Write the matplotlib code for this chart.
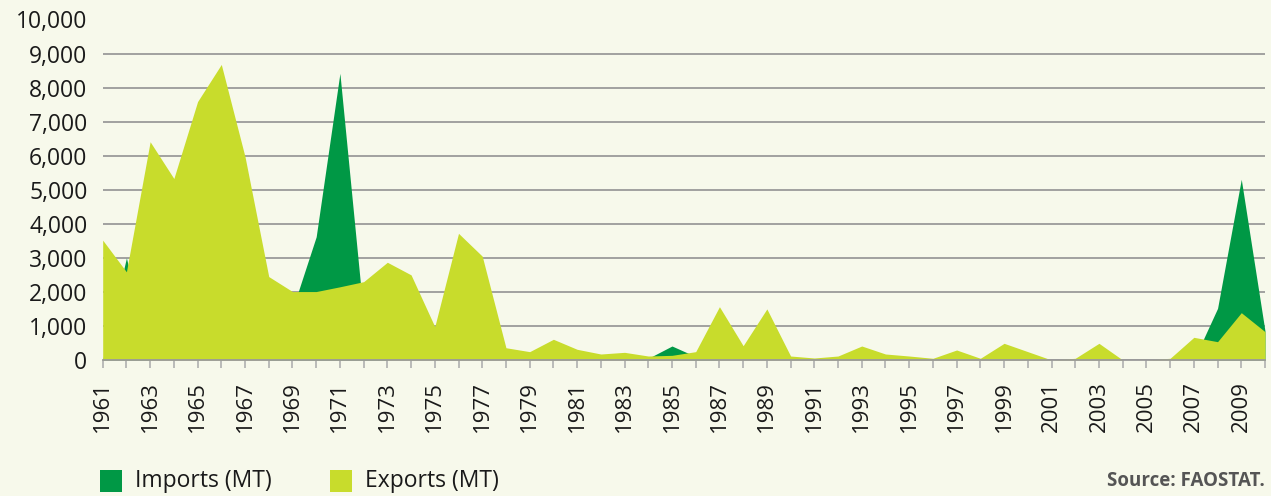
import matplotlib
matplotlib.use('Agg')
import matplotlib.pyplot as plt
from matplotlib.patches import Rectangle
from matplotlib.ticker import FuncFormatter, MultipleLocator

# ---------------------------------------------------------
# data (metric tonnes)
# ---------------------------------------------------------
years = list(range(1961, 2011))

exports = [3520, 2590, 6410, 5330, 7590, 8680, 5970, 2450, 2010, 2010,
           2150, 2300, 2870, 2500, 980, 3720, 3050, 360, 245, 608,
           314, 176, 225, 117, 137, 245, 1565, 420, 1500, 117,
           59, 117, 411, 176, 117, 50, 294, 50, 490, 245,
           0, 50, 490, 0, 0, 50, 666, 538, 1390, 832]

imports = [0, 3000, 0, 0, 0, 0, 0, 0, 1490, 3620,
           8420, 1290, 0, 0, 0, 0, 0, 0, 0, 0,
           0, 0, 0, 50, 411, 100, 0, 0, 0, 0,
           0, 0, 0, 0, 0, 0, 0, 0, 0, 0,
           0, 0, 0, 0, 0, 0, 0, 1518, 5307, 850]

series_labels = ['Imports (MT)', 'Exports (MT)']
source_note = 'Source: FAOSTAT.'

BG = '#f7f9eb'
DARK_GREEN = '#009845'
LIME = '#c8dc2c'
GRID = '#9a9a9a'

plt.rcParams['font.family'] = ['Open Sans', 'DejaVu Sans']

W, H = 1271, 496
fig = plt.figure(figsize=(W / 100, H / 100), dpi=100, facecolor=BG)
ax = fig.add_axes([102.7 / W, (H - 360) / H, (1265 - 102.7) / W, (360 - 19.5) / H])
ax.set_facecolor(BG)

ax.fill_between(years, imports, 0, color=DARK_GREEN, linewidth=0, zorder=2)
ax.fill_between(years, exports, 0, color=LIME, linewidth=0, zorder=3)

ax.set_xlim(1961, 2010)
ax.set_ylim(0, 10000)

# gridlines
ax.yaxis.set_major_locator(MultipleLocator(1000))
ax.yaxis.set_major_formatter(FuncFormatter(lambda v, p: f"{int(v):,}"))
ax.grid(axis='y', color=GRID, linewidth=1.3, zorder=1)
ax.set_axisbelow(True)

for s in ['top', 'right', 'left']:
    ax.spines[s].set_visible(False)
ax.spines['bottom'].set_color(GRID)
ax.spines['bottom'].set_linewidth(1.3)
ax.spines['bottom'].set_zorder(4)

ax.tick_params(axis='y', length=0, pad=11, labelsize=16.5, colors='#1a1a1a')
ax.set_xticks(years[::2])
ax.set_xticks(years, minor=True)
ax.set_xticklabels([str(y) for y in years[::2]], rotation=90)
ax.tick_params(axis='x', which='both', direction='out', length=6,
               color='#b0b0b0', width=1.2)
ax.tick_params(axis='x', which='major', pad=9, labelsize=16, labelcolor='#1a1a1a')

# legend, drawn by hand at the bottom
legend_colors = [DARK_GREEN, LIME]
legend_x = [100, 330]
for lx, col, lab in zip(legend_x, legend_colors, series_labels):
    fig.add_artist(Rectangle((lx / W, (H - 492) / H), 22 / W, 22 / H,
                             transform=fig.transFigure, color=col, linewidth=0))
    fig.text((lx + 35) / W, (H - 481) / H, lab, fontsize=16.5, va='center',
             ha='left', color='#1a1a1a')

fig.text(1265 / W, (H - 481) / H, source_note, fontsize=13.5, fontweight='bold',
         ha='right', va='center', color='#555555')

fig.savefig('out.png', dpi=100, facecolor=BG)
